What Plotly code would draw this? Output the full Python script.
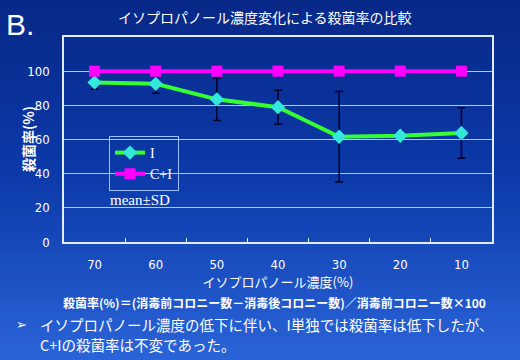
import plotly.graph_objects as go

categories = ["70", "60", "50", "40", "30", "20", "10"]
i_mean = [93.4, 92.6, 83.5, 78.9, 61.6, 62.2, 63.8]
i_sd = [4.0, 5.5, 12.4, 9.9, 26.5, 1.0, 14.8]
ci_mean = [100, 100, 100, 100, 100, 100, 100]
y_ticks = [0, 20, 40, 60, 80, 100]

JP = "Noto Sans CJK JP, sans-serif"
NARROW = "DejaVu Sans Condensed, Liberation Sans Narrow, Liberation Sans, Arial, sans-serif"
SERIF = "Liberation Serif, Times New Roman, serif"

fig = go.Figure()
fig.add_trace(go.Scatter(
    x=categories, y=i_mean, name="I", mode="lines+markers",
    line=dict(color="#33ff33", width=4),
    marker=dict(symbol="diamond", size=11, color="#33e8d8"),
    error_y=dict(type="data", array=i_sd, visible=True, color="#000028", thickness=1.5, width=4),
))
fig.add_trace(go.Scatter(
    x=categories, y=ci_mean, name="C+I", mode="lines+markers",
    line=dict(color="#ff00ff", width=4),
    marker=dict(symbol="square", size=11, color="#ff00ff"),
))

# gradient background (paper coords span whole page)
L, R, T, B, W, H = 64, 28, 37, 118, 520, 360
pw, ph = W - L - R, H - T - B
stops = [(0, (8, 40, 135)), (180, (12, 58, 170)), (360, (42, 100, 216))]
def col(yy):
    for (a, ca), (b, cb) in zip(stops[:-1], stops[1:]):
        if a <= yy <= b:
            t = (yy - a) / (b - a)
            return "rgb(%d,%d,%d)" % tuple(round(ca[k] + (cb[k] - ca[k]) * t) for k in range(3))
    return "rgb(%d,%d,%d)" % stops[-1][1]
shapes = []
n = 60
for k in range(n):
    y0p = k * H / n
    y1p = (k + 1) * H / n + 0.5
    shapes.append(dict(type="rect", xref="paper", yref="paper", layer="below",
                       x0=-L / pw, x1=(W - L) / pw,
                       y0=(H - B - y1p) / ph, y1=(H - B - y0p) / ph,
                       fillcolor=col((y0p + y1p) / 2), line=dict(width=0)))

def px(xp):
    return (xp - L) / pw
def py(yp):
    return (H - B - yp) / ph

def note(text, x, y, size, family, xanchor="left", angle=0):
    return dict(text=text, xref="paper", yref="paper", x=px(x), y=py(y),
                xanchor=xanchor, yanchor="middle", showarrow=False, textangle=angle,
                font=dict(family=family, size=size, color="white"))

ann = [
    note("B.", 4, 25, 30, "Liberation Sans, Arial"),
    note("イソプロパノール濃度変化による殺菌率の比較", 265, 17, 14, JP, "center"),
    note("<b>殺菌率(%)</b>", 28, 139, 14, JP, "center", -90),
    note("mean±SD", 108, 200, 15, SERIF),
    note("<b>殺菌率(%)＝(消毒前コロニー数－消毒後コロニー数)／消毒前コロニー数×100</b>", 274, 302, 12, JP, "center"),
    note("➢", 14, 324, 13, "DejaVu Sans"),
    note("イソプロパノール濃度の低下に伴い、I単独では殺菌率は低下したが、", 38, 324, 14.5, JP),
    note("C+Iの殺菌率は不変であった。", 38, 344, 14.5, JP),
]

fig.update_layout(
    width=W, height=H,
    margin=dict(l=L, r=R, t=T, b=B, pad=0, autoexpand=False),
    paper_bgcolor="#0d3aa8", plot_bgcolor="rgba(0,0,0,0)",
    shapes=shapes, annotations=ann,
    showlegend=True,
    legend=dict(x=px(109), y=py(136), xanchor="left", yanchor="top",
                bgcolor="rgba(0,0,0,0)", bordercolor="#9cc0ff", borderwidth=1,
                font=dict(family=SERIF, size=14, color="white"),
                itemwidth=30, tracegroupgap=0),
    xaxis=dict(
        type="category", categoryorder="array", categoryarray=categories,
        range=[-0.5, 6.5], automargin=False,
        showgrid=False, showline=True, linecolor="#e0ecff", linewidth=1.5, mirror=True,
        ticks="inside", tickson="boundaries", ticklen=4, tickcolor="#e0ecff",
        tickfont=dict(family=NARROW, size=13, color="white"),
        title=dict(text="イソプロパノール濃度(%)", font=dict(family=JP, size=13, color="white"), standoff=0),
        ticklabelstandoff=10,
    ),
    yaxis=dict(
        range=[0, 120], tickvals=y_ticks, showgrid=True, gridcolor="#a8c8ff", gridwidth=1.2,
        zeroline=False, showline=True, linecolor="#e0ecff", linewidth=1.5, mirror=True,
        automargin=False,
        ticks="", tickfont=dict(family=NARROW, size=13, color="white"), ticklabelstandoff=10,
    ),
)

fig.write_html("out.html", config={"displayModeBar": False},
               post_script="document.body.style.margin='0';document.body.style.overflow='hidden';")
